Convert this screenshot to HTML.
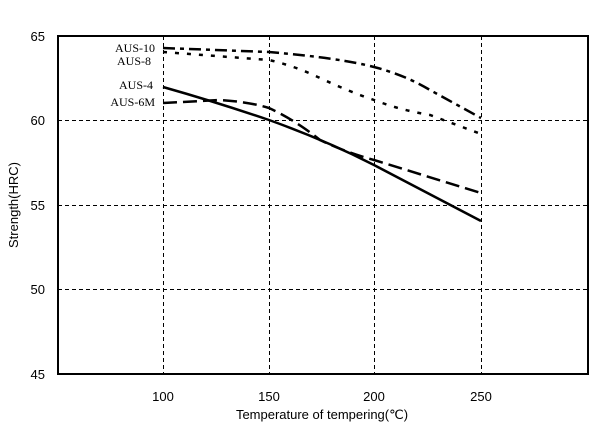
<!DOCTYPE html>
<html><head><style>body{margin:0;background:#fff}svg{display:block}</style></head><body>
<svg width="615" height="430" xmlns="http://www.w3.org/2000/svg" font-family="Liberation Sans, sans-serif">
<rect width="615" height="430" fill="#fff"/>
<g stroke="#000" stroke-width="1" stroke-dasharray="4,3" shape-rendering="crispEdges">
<line x1="58" y1="120.5" x2="588" y2="120.5"/><line x1="58" y1="205.5" x2="588" y2="205.5"/><line x1="58" y1="289.5" x2="588" y2="289.5"/>
<line x1="163.5" y1="36" x2="163.5" y2="374"/><line x1="269.5" y1="36" x2="269.5" y2="374"/><line x1="374.5" y1="36" x2="374.5" y2="374"/><line x1="481.5" y1="36" x2="481.5" y2="374"/>
</g>
<rect x="58" y="36" width="530" height="338" fill="none" stroke="#000" stroke-width="2"/>
<g font-size="13" fill="#000" text-anchor="end">
<text x="45" y="41">65</text><text x="45" y="125">60</text><text x="45" y="210">55</text><text x="45" y="294">50</text><text x="45" y="379">45</text>
</g>
<g font-size="13" fill="#000" text-anchor="middle">
<text x="163" y="401">100</text><text x="269" y="401">150</text><text x="374" y="401">200</text><text x="481" y="401">250</text>
<text x="322" y="419">Temperature of tempering(℃)</text>
</g>
<text transform="translate(18,205) rotate(-90)" font-size="13" text-anchor="middle">Strength(HRC)</text>
<g font-family="Liberation Serif, serif" font-size="12" text-anchor="end">
<text x="155" y="52">AUS-10</text><text x="151" y="65">AUS-8</text><text x="153" y="89">AUS-4</text><text x="155" y="106">AUS-6M</text>
</g>
<g fill="none" stroke="#000" stroke-width="2.5">
<path d="M163,87 Q216,102 269,120 Q325,140 374,165 L481,221"/>
<path d="M163,103 L220,100 Q250,102 269,108 Q295,120 320,140 Q345,152 374,160 L481,193" stroke-dasharray="14,6"/>
<path d="M163,48 L269,52 Q340,58 374,67 Q405,75 430,90 L481,118" stroke-dasharray="12,5,4,5"/>
<path d="M163,52 L269,60 Q295,66 320,78 Q350,92 374,100 Q400,110 430,115 L481,134" stroke-dasharray="4,8"/>
</g>
</svg>
</body></html>
